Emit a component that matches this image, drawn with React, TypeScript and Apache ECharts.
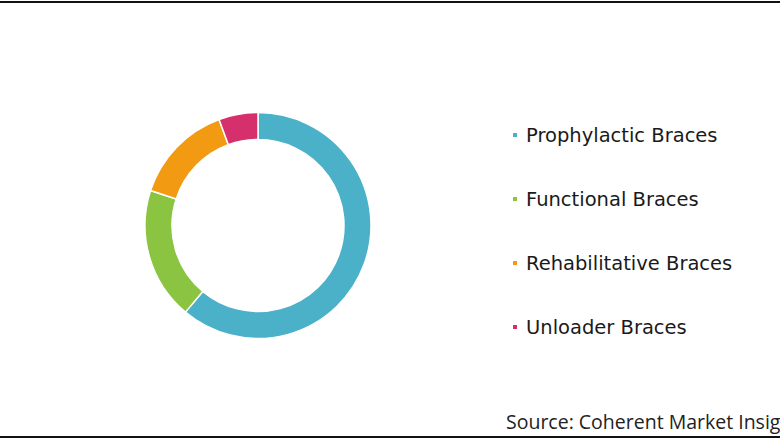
import React, { useEffect, useRef } from "react";
import * as echarts from "echarts";

const categories = ["Prophylactic Braces", "Functional Braces", "Rehabilitative Braces", "Unloader Braces"];
const shares = [61.1, 18.9, 14.4, 5.6];
const colors = ["#4BB1C8", "#8AC441", "#F29A12", "#D5306B"];
const sourceText = "Source: Coherent Market Insights";

export default function App() {
  const ref = useRef<HTMLDivElement>(null);
  useEffect(() => {
    document.body.style.margin = "0";
    const chart = echarts.init(ref.current!, null, { renderer: "svg" });
    chart.setOption({
      animation: false,
      backgroundColor: "#ffffff",
      color: colors,
      legend: {
        orient: "vertical",
        left: 506,
        top: 118,
        padding: 5,
        icon: "rect",
        itemWidth: 6,
        itemHeight: 6,
        itemGap: 40,
        selectedMode: false,
        textStyle: {
          fontFamily: "DejaVu Sans",
          fontSize: 19.5,
          color: "#1a1a1a",
          lineHeight: 24,
          padding: [0, 0, 0, 3],
        },
        data: categories,
      },
      graphic: [
        { type: "rect", shape: { x: 0, y: 1, width: 780, height: 2 }, style: { fill: "#111" } },
        { type: "rect", shape: { x: 0, y: 436, width: 780, height: 2 }, style: { fill: "#111" } },
        {
          type: "text",
          x: 506,
          y: 431,
          style: {
            text: sourceText,
            fontFamily: "Open Sans",
            fontSize: 19.5,
            fill: "#222",
            verticalAlign: "bottom",
          },
        },
      ],
      series: [
        {
          type: "pie",
          center: [258, 225.5],
          radius: [86, 113],
          startAngle: 90,
          clockwise: true,
          label: { show: false },
          labelLine: { show: false },
          silent: true,
          itemStyle: { borderColor: "#ffffff", borderWidth: 1.5 },
          data: categories.map((name, i) => ({ name, value: shares[i] })),
        },
      ],
    });
    return () => chart.dispose();
  }, []);
  return <div ref={ref} style={{ position: "absolute", left: 0, top: 0, width: 780, height: 440 }} />;
}
